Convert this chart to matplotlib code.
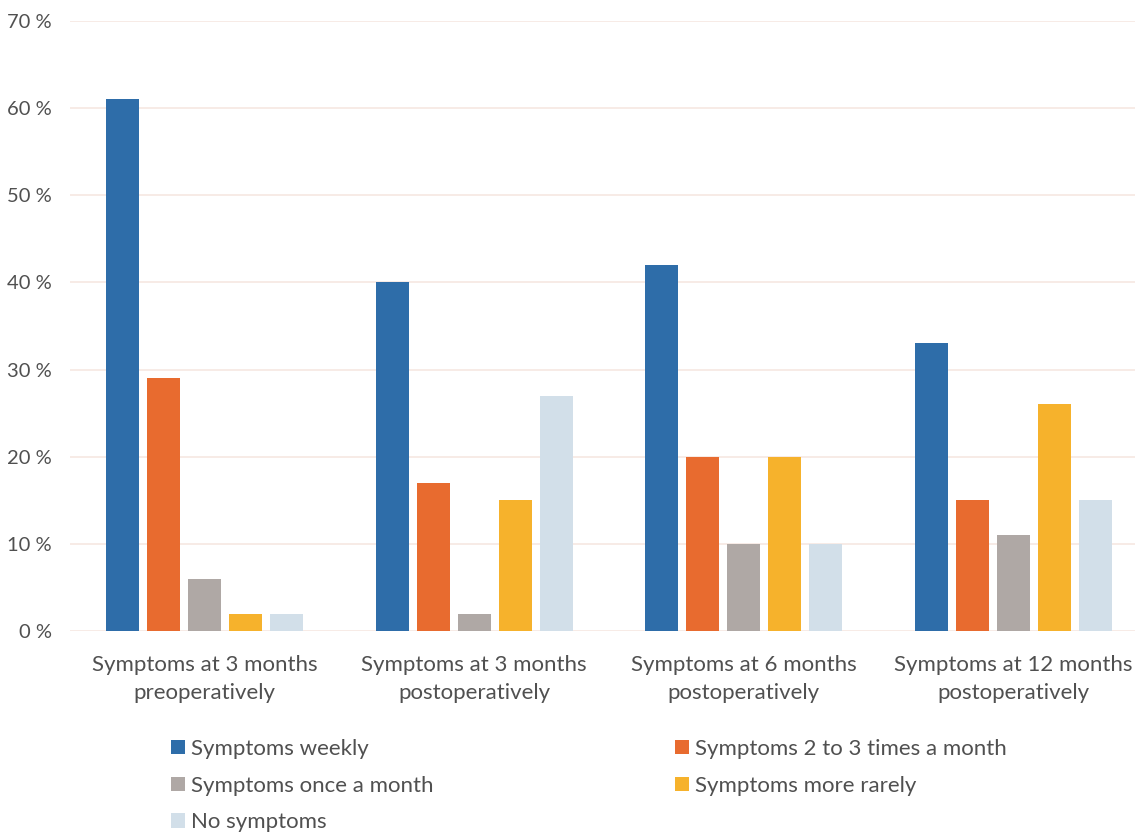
import matplotlib
matplotlib.use("Agg")
import matplotlib.pyplot as plt
import numpy as np
from matplotlib.patches import Patch

categories = ["Symptoms at 3 months\npreoperatively",
              "Symptoms at 3 months\npostoperatively",
              "Symptoms at 6 months\npostoperatively",
              "Symptoms at 12 months\npostoperatively"]
series_names = ["Symptoms weekly", "Symptoms 2 to 3 times a month",
                "Symptoms once a month", "Symptoms more rarely", "No symptoms"]
weekly = [61, 40, 42, 33]
two_three = [29, 17, 20, 15]
once = [6, 2, 10, 11]
rarely = [2, 15, 20, 26]
none_ = [2, 27, 10, 15]
yticks = [0, 10, 20, 30, 40, 50, 60, 70]
ytick_labels = ["0 %", "10 %", "20 %", "30 %", "40 %", "50 %", "60 %", "70 %"]

colors = ["#2E6DA9", "#E86B2F", "#AFA8A5", "#F6B22C", "#D2DFE9"]
series = [weekly, two_three, once, rarely, none_]

plt.rcParams['font.family'] = ['Lato', 'DejaVu Sans']
text_color = "#505050"

fig = plt.figure(figsize=(11.35, 8.33), dpi=100)
ax = fig.add_axes([70/1135, 1-631/833, 1078/1135, (631-21)/833])

x = np.arange(len(categories))
step = 0.152
width = 0.1225
handles = []
for i, (vals, c, name) in enumerate(zip(series, colors, series_names)):
    ax.bar(x + (i - 2) * step, vals, width=width, color=c, label=name, zorder=3)
    handles.append(Patch(facecolor=c, label=name))

ax.set_xlim(-0.5, len(categories) - 0.5)
ax.set_ylim(0, 70)
ax.set_yticks(yticks)
ax.set_yticklabels(ytick_labels, fontsize=14.5, color=text_color)
ax.set_xticks(x)
ax.set_xticklabels(categories, fontsize=16, color=text_color, linespacing=1.55)
ax.tick_params(axis='both', length=0)
ax.tick_params(axis='y', pad=13)
ax.tick_params(axis='x', pad=17)
ax.grid(axis='y', color="#F6E8E2", linewidth=1.2, zorder=0)
for s in ax.spines.values():
    s.set_visible(False)

leg_kw = dict(frameon=False, fontsize=16, handlelength=0.63, handleheight=0.63,
              handletextpad=0.25, labelspacing=0.75, borderpad=0, borderaxespad=0,
              labelcolor=text_color)
leg1 = fig.legend(handles=[handles[0], handles[2], handles[4]], loc='upper left',
                  bbox_to_anchor=(171/1135, 1-739/833), **leg_kw)
leg2 = fig.legend(handles=[handles[1], handles[3]], loc='upper left',
                  bbox_to_anchor=(675/1135, 1-739/833), **leg_kw)

fig.savefig("out.png", dpi=100)
